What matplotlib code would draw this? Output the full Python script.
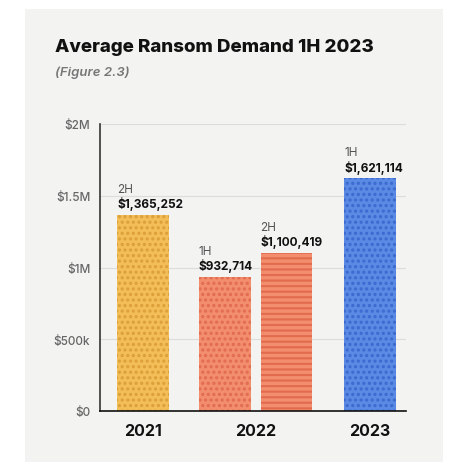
import matplotlib
matplotlib.use("Agg")
import matplotlib.pyplot as plt
from matplotlib.patches import Rectangle

# Data
years = ["2021", "2022", "2023"]
bar_periods = ["2H", "1H", "2H", "1H"]
bar_values = [1365252, 932714, 1100419, 1621114]
bar_labels = ["$1,365,252", "$932,714", "$1,100,419", "$1,621,114"]
ytick_values = [0, 500000, 1000000, 1500000, 2000000]
ytick_labels = ["$0", "$500k", "$1M", "$1.5M", "$2M"]

# Styling
positions = [0, 1.57, 2.76, 4.37]
year_positions = [0, (1.57 + 2.76) / 2, 4.37]
face_colors = ["#f3bd58", "#f28d6d", "#f28d6d", "#5b8ae4"]
hatch_colors = ["#dc9f38", "#e26b4e", "#e26b4e", "#3a69d0"]
hatches = ["...", "...", "---", "..."]
panel = "#f3f3f1"

plt.rcParams["font.family"] = ["Inter", "DejaVu Sans"]
plt.rcParams["hatch.linewidth"] = 1.5

fig = plt.figure(figsize=(4.66, 4.77), dpi=100)
fig.patch.set_facecolor("white")
fig.patches.append(Rectangle((25 / 466, 1 - 463 / 477), 418 / 466, 453 / 477,
                             transform=fig.transFigure, facecolor=panel,
                             edgecolor="none", zorder=-10))

ax = fig.add_axes([100 / 466, 1 - 412 / 477, 306 / 466, 287 / 477])
ax.set_facecolor(panel)
ax.set_zorder(5)

for x, v, fc, hc, h in zip(positions, bar_values, face_colors, hatch_colors, hatches):
    ax.bar(x, v, width=1.0, color=fc, edgecolor=hc, linewidth=0, hatch=h, zorder=3)

for x, v, per, lab in zip(positions, bar_values, bar_periods, bar_labels):
    ax.annotate(per, (x - 0.5, v), xytext=(0, 14.5), textcoords="offset points",
                ha="left", va="bottom", fontsize=8.5, color="#555555")
    ax.annotate(lab, (x - 0.5, v), xytext=(0, 3.5), textcoords="offset points",
                ha="left", va="bottom", fontsize=8.5, fontweight="bold", color="#111111")

ax.set_xlim(-0.83, 5.06)
ax.set_ylim(0, 2000000)
ax.set_yticks(ytick_values)
ax.set_yticklabels(ytick_labels, fontsize=8.5, color="#666666", fontweight="medium")
ax.set_xticks(year_positions)
ax.set_xticklabels(years, fontsize=11.5, fontweight="bold", color="#111111")
ax.tick_params(axis="both", length=0)
ax.tick_params(axis="y", pad=7)
ax.tick_params(axis="x", pad=9)
ax.grid(axis="y", color="#dcdcdc", linewidth=0.8, zorder=0)
ax.set_axisbelow(True)
for s in ["top", "right"]:
    ax.spines[s].set_visible(False)
ax.spines["left"].set_color("#333333")
ax.spines["left"].set_linewidth(1.2)
ax.spines["bottom"].set_color("#111111")
ax.spines["bottom"].set_linewidth(1.2)
ax.spines["left"].set_zorder(4)
ax.spines["bottom"].set_zorder(4)

fig.text(55 / 466, 1 - 47 / 477, "Average Ransom Demand 1H 2023", fontsize=13.5,
         fontweight="heavy", color="#111111", ha="left", va="center")
fig.text(55 / 466, 1 - 73 / 477, "(Figure 2.3)", fontsize=9.5, fontstyle="italic",
         fontweight="semibold", color="#777777", ha="left", va="center")

fig.savefig("out.png", dpi=100, facecolor="white")
